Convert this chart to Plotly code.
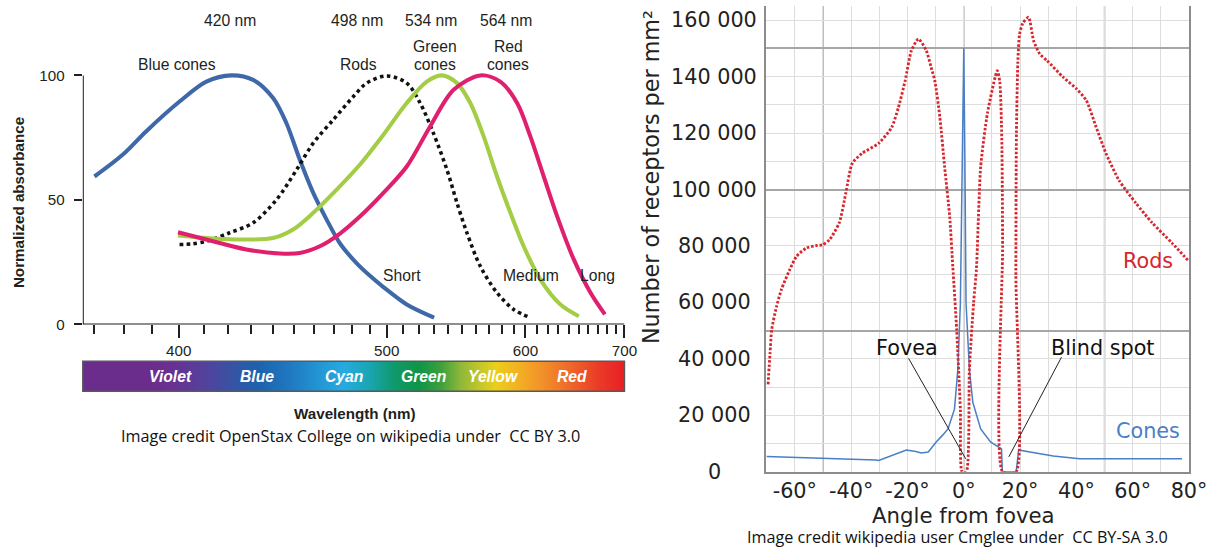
import plotly.graph_objects as go

# ---------------- data: left chart (absorbance spectra) ----------------
blue_wl = [370.0, 379.5, 387.8, 400.3, 410.9, 421.3, 430.8, 439.9, 446.2, 452.7, 459.4, 466.3, 473.4, 482.6, 490.1, 498.0, 512.3, 530.2]
blue_ab = [59.4, 68.1, 77.5, 89.5, 97.5, 100.0, 98.2, 90.9, 80.8, 66.1, 52.8, 42.1, 32.5, 24.5, 19.5, 15.0, 8.0, 2.7]

rods_wl = [400.3, 405.0, 410.9, 420.6, 430.8, 441.5, 451.1, 459.4, 469.8, 480.7, 488.2, 500.0, 512.3, 520.9, 529.7, 539.0, 546.1, 553.3, 563.3, 576.4, 590.0, 604.3]
rods_ab = [32.1, 32.3, 33.4, 36.8, 40.8, 50.1, 62.1, 72.8, 82.2, 91.5, 96.9, 99.8, 96.9, 88.9, 76.8, 62.1, 48.8, 36.8, 23.4, 12.7, 6.0, 2.7]

green_wl = [399.7, 413.6, 427.8, 439.9, 449.4, 459.4, 471.6, 484.4, 498.0, 512.3, 525.3, 535.5, 546.1, 555.8, 565.9, 576.4, 587.3, 598.5, 613.3, 631.9, 650.1]
green_ab = [35.7, 34.5, 34.1, 34.7, 38.1, 44.8, 54.1, 64.2, 76.2, 88.9, 97.5, 100.0, 96.9, 88.9, 75.5, 59.4, 44.8, 31.4, 18.0, 8.0, 3.3]

red_wl = [399.7, 413.6, 427.8, 443.0, 452.7, 462.8, 473.4, 484.5, 498.0, 512.3, 527.5, 543.7, 563.3, 579.0, 592.9, 604.3, 616.3, 628.8, 645.0, 662.2, 677.7]
red_ab = [37.0, 33.4, 30.1, 28.5, 28.7, 31.4, 36.5, 43.4, 52.8, 63.4, 79.5, 94.2, 100.0, 97.5, 88.9, 75.5, 59.4, 43.4, 26.1, 12.7, 4.0]

wl_major_ticks = [400, 500, 600, 700]
wl_minor_ticks = [370, 380, 390, 410, 420, 430, 440, 450, 460, 470, 480, 490, 510, 520, 530, 540, 550, 560, 570, 580, 590, 610, 620, 630, 640, 650, 660, 670, 680, 690]
ab_ticks = [0, 50, 100]

spec_wl = [366.2, 389.1, 396.9, 410.1, 420.6, 432.7, 447.5, 462.6, 475.6, 489.7, 504.4, 520.2, 533.9, 548.3, 563.5, 575.6, 592.6, 615.5, 640.0, 670.4, 702.5]
spec_col = ["#6b2d8c", "#6b2d8c", "#6a3090", "#53429c", "#3a52a3", "#1d62ad", "#1f78c0", "#2397d4", "#27aae1", "#1aa6b3",
            "#10996c", "#0f9548", "#3c9f3c", "#8db83a", "#c8c82a", "#ebcf1c", "#f2b322", "#f2902a", "#ee6a2a", "#ea3c28", "#e81d25"]
spec_names = ["Violet", "Blue", "Cyan", "Green", "Yellow", "Red"]
spec_name_wl = [397.0, 432.7, 475.5, 523.4, 573.8, 643.1]

# ---------------- data: right chart (receptor density) ----------------
rods_deg = [-69.5, -68.8, -68.2, -66.5, -64.8, -61.8, -59.4, -55.9, -52.0, -50.2, -47.7, -44.2, -41.9, -39.6, -36.1, -30.2,
            -25.6, -23.2, -20.8, -18.6, -16.1, -13.3, -11.6, -10.3, -8.5, -6.8, -5.0, -3.9, -2.5, -1.2, -0.6, 0.9, 2.0,
            3.5, 4.5, 6.0, 8.4, 11.9, 12.8, 13.5, 13.8, 13.8, 18.6, 18.5, 18.7, 19.2, 19.8, 21.0, 23.0, 24.8, 27.0, 29.5,
            35.3, 40.0, 43.5, 47.0, 50.5, 55.1, 61.1, 66.9, 73.9, 80.0]
rods_den = [31000, 42000, 50400, 58500, 64500, 71600, 76300, 79300, 80200, 80400, 82200, 88200, 98700, 109300, 112800, 116400,
            122000, 129100, 138600, 149200, 153300, 149200, 143300, 138600, 125700, 108000, 90400, 72800, 50000, 22000, 0, 0, 36300,
            60000, 72000, 108000, 127000, 142100, 138000, 118000, 80000, 0, 0, 70000, 120000, 145000, 155000, 159000, 161000, 152700, 148000, 145700,
            139800, 135700, 131600, 122100, 112800, 103300, 95200, 88200, 81100, 74500]

cones_deg = [-70.0, -50.0, -31.3, -30.2, -25.6, -20.4, -17.0, -15.1, -12.6, -9.8, -7.5, -5.6, -3.3, -2.1, -1.2, -0.4, 0.0, 0.4,
             0.8, 2.0, 3.2, 6.0, 9.5, 13.4, 13.7, 18.6, 19.5, 23.5, 31.8, 41.1, 58.6, 77.5]
cones_den = [5400, 4900, 4200, 4000, 5750, 7750, 7200, 6700, 7050, 10600, 13000, 15200, 22200, 36300, 59900, 110000, 150000, 110000,
             59900, 36300, 24700, 15200, 10600, 8100, 0, 0, 7750, 7050, 5650, 4600, 4600, 4600]

deg_ticks = [-60, -40, -20, 0, 20, 40, 60, 80]
den_ticks = [0, 20000, 40000, 60000, 80000, 100000, 120000, 140000, 160000]

# ---------------- helpers ----------------
RW, RH = 1210, 548          # reference pixel space
K = 1.0125                  # compensation for page fit scaling
W, H = round(RW * K), round(RH * K)
def fx(p):
    return p / RW
def fy(p):
    return 1 - p / RH
def fs(s):
    return s * K
def u(wl_list):
    return [-1000.0 / w for w in wl_list]

INK = "#231f20"
LF = "Liberation Sans, Arial, sans-serif"
RF = "DejaVu Sans, Verdana, sans-serif"
CF = "Open Sans, DejaVu Sans, sans-serif"

fig = go.Figure()

fig.add_trace(go.Scatter(x=u(blue_wl), y=blue_ab, mode="lines", line=dict(color="#3f68a9", width=fs(4), shape="spline", smoothing=0.9),
                         xaxis="x", yaxis="y", hoverinfo="skip"))
fig.add_trace(go.Scatter(x=u(rods_wl), y=rods_ab, mode="lines", line=dict(color="#111111", width=fs(3.5), dash="3.5px,3.5px", shape="spline", smoothing=0.9),
                         xaxis="x", yaxis="y", hoverinfo="skip"))
fig.add_trace(go.Scatter(x=u(green_wl), y=green_ab, mode="lines", line=dict(color="#a3cd45", width=fs(4), shape="spline", smoothing=0.9),
                         xaxis="x", yaxis="y", hoverinfo="skip"))
fig.add_trace(go.Scatter(x=u(red_wl), y=red_ab, mode="lines", line=dict(color="#e0206e", width=fs(4), shape="spline", smoothing=0.9),
                         xaxis="x", yaxis="y", hoverinfo="skip"))

n = len(spec_col)
fig.add_trace(go.Heatmap(x=u(spec_wl), y=[0, 1], z=[list(range(n)), list(range(n))], zsmooth="best",
                         colorscale=[[i / (n - 1), c] for i, c in enumerate(spec_col)], showscale=False,
                         xaxis="x3", yaxis="y3", hoverinfo="skip"))

fig.add_trace(go.Scatter(x=cones_deg, y=cones_den, mode="lines", line=dict(color="#4a7fc6", width=fs(1.5)),
                         xaxis="x2", yaxis="y2", hoverinfo="skip"))
fig.add_trace(go.Scatter(x=rods_deg, y=rods_den, mode="lines", line=dict(color="#d6262e", width=fs(2.8), dash="2.5px,1.8px", shape="spline", smoothing=0.6),
                         xaxis="x2", yaxis="y2", hoverinfo="skip"))

xl = [-1000.0 / 366.2, -1000.0 / 700.0]
left_dom_x = [fx(83), fx(626)]

shapes = [
    dict(type="line", xref="x", yref="y", x0=xl[0], x1=xl[1], y0=0, y1=0, line=dict(color=INK, width=fs(2))),
    dict(type="line", xref="x", yref="y", x0=xl[0], x1=xl[0], y0=0, y1=100, line=dict(color=INK, width=fs(2))),
    dict(type="rect", xref="x3 domain", yref="y3 domain", x0=0, x1=1, y0=0, y1=1, line=dict(color="#58595b", width=1.5)),
]
for v in [-50, 0, 50]:
    shapes.append(dict(type="line", xref="x2", yref="y2 domain", x0=v, x1=v, y0=0, y1=1, layer="below",
                       line=dict(color="#a6a6a6", width=1.5)))

ann = []
def txt(x, y, s, size, color=INK, family=LF, **kw):
    ann.append(dict(x=fx(x), y=fy(y), xref="paper", yref="paper", text=s, showarrow=False,
                    font=dict(size=fs(size), color=color, family=family), xanchor="center", yanchor="middle", **kw))

for x, s in [(230.7, "420 nm"), (358.3, "498 nm"), (431.7, "534 nm"), (507.3, "564 nm")]:
    txt(x, 20.7, s, 15.5)
txt(177.3, 64.3, "Blue cones", 15.5)
txt(359.3, 64.3, "Rods", 15.5)
txt(436, 46.7, "Green", 15.5)
txt(436, 64.3, "cones", 15.5)
txt(509.3, 46.7, "Red", 15.5)
txt(509.3, 64.3, "cones", 15.5)
txt(403.3, 276, "Short", 15.5)
txt(532.7, 276, "Medium", 15.5)
txt(599.3, 276, "Long", 15.5)
ann.append(dict(x=fx(18.5), y=fy(203), xref="paper", yref="paper", text="<b>Normalized absorbance</b>", showarrow=False,
                textangle=-90, font=dict(size=fs(15), color=INK, family=LF), xanchor="center", yanchor="middle"))
txt(356, 414, "<b>Wavelength (nm)</b>", 15)
txt(351, 437, "Image credit OpenStax College on wikipedia under  CC BY 3.0", 16, color="#111111", family=CF)

for s, w in zip(spec_names, spec_name_wl):
    ann.append(dict(x=-1000.0 / w, y=0.5, xref="x3", yref="y3 domain", text=s, showarrow=False,
                    font=dict(size=fs(15.5), color="white", family=LF, weight="bold", style="italic"),
                    xanchor="center", yanchor="middle"))

for v in den_ticks:
    ann.append(dict(x=fx(716), y=v, xref="paper", yref="y2", text=f"{v:,}".replace(",", " "), showarrow=False,
                    font=dict(size=fs(20.5), color="#222222", family=RF), xanchor="center", yanchor="middle"))
ann.append(dict(x=fx(652), y=fy(177), xref="paper", yref="paper", text="Number of receptors per mm²", showarrow=False,
                textangle=-90, font=dict(size=fs(22), color="#222222", family=RF), xanchor="center", yanchor="middle"))
txt(966, 516, "Angle from fovea", 21, color="#222222", family=RF)
txt(960, 537.5, "Image credit wikipedia user Cmglee under  CC BY-SA 3.0", 16, color="#111111", family=CF)
ann.append(dict(x=65.5, y=74600, xref="x2", yref="y2", text="Rods", showarrow=False,
                font=dict(size=fs(20.5), color="#d6262e", family=RF), xanchor="center", yanchor="middle"))
ann.append(dict(x=65.3, y=14300, xref="x2", yref="y2", text="Cones", showarrow=False,
                font=dict(size=fs(20.5), color="#4a7fc6", family=RF), xanchor="center", yanchor="middle"))
ann.append(dict(x=-20.3, y=44000, xref="x2", yref="y2", text="Fovea", showarrow=False,
                font=dict(size=fs(20.5), color="#111111", family=RF), xanchor="center", yanchor="middle"))
ann.append(dict(x=49.5, y=44000, xref="x2", yref="y2", text="Blind spot", showarrow=False,
                font=dict(size=fs(20.5), color="#111111", family=RF), xanchor="center", yanchor="middle"))
shapes.append(dict(type="line", xref="x2", yref="y2", x0=-19.6, y0=40200, x1=0.7, y1=4600, line=dict(color="#222222", width=1)))
shapes.append(dict(type="line", xref="x2", yref="y2", x0=34.7, y0=40600, x1=16.0, y1=5300, line=dict(color="#222222", width=1)))

fig.update_layout(
    width=W, height=H, margin=dict(l=0, r=0, t=0, b=0),
    paper_bgcolor="white", plot_bgcolor="rgba(0,0,0,0)", showlegend=False,
    xaxis=dict(domain=left_dom_x, range=xl, anchor="y", showgrid=False, zeroline=False, showline=False,
               tickmode="array", tickvals=u(wl_major_ticks), ticktext=[str(t) for t in wl_major_ticks],
               ticks="outside", ticklen=fs(12), tickwidth=2, tickcolor=INK,
               tickfont=dict(size=fs(15), color=INK, family=LF),
               minor=dict(tickmode="array", tickvals=u(wl_minor_ticks), ticks="outside", ticklen=fs(8), tickwidth=2, tickcolor=INK, showgrid=False)),
    yaxis=dict(domain=[fy(325), fy(45.6)], range=[0, 112], anchor="x", showgrid=False, zeroline=False, showline=False,
               tickmode="array", tickvals=ab_ticks, ticks="outside", ticklen=fs(8), tickwidth=2, tickcolor=INK,
               ticklabelstandoff=6,
               tickfont=dict(size=fs(15), color=INK, family=LF)),
    xaxis3=dict(domain=left_dom_x, range=xl, anchor="y3", showgrid=False, zeroline=False, showticklabels=False, ticks=""),
    yaxis3=dict(domain=[fy(392), fy(362)], range=[0, 1], anchor="x3", showgrid=False, zeroline=False, showticklabels=False, ticks=""),
    xaxis2=dict(domain=[fx(768), fx(1192)], range=[-70.2, 80], anchor="y2", zeroline=False,
                tickmode="array", tickvals=deg_ticks, ticktext=[f"{t}°" for t in deg_ticks],
                tickfont=dict(size=fs(20.5), color="#222222", family=RF), ticks="",
                showgrid=True, gridcolor="#dddddd", gridwidth=1,
                showline=True, linecolor="#8c8c8c", linewidth=1.5, mirror=False,
                minor=dict(tickmode="array", tickvals=list(range(-70, 81, 10)), showgrid=True, gridcolor="#dddddd", gridwidth=1, ticks="")),
    yaxis2=dict(domain=[fy(472.7), fy(6)], range=[0, 165000], anchor="x2", zeroline=False,
                tickmode="array", tickvals=[0, 50000, 100000, 150000], showticklabels=False, ticks="",
                showgrid=True, gridcolor="#a6a6a6", gridwidth=1.5,
                showline=True, linecolor="#8c8c8c", linewidth=1.5, mirror=True,
                minor=dict(tickmode="array", tickvals=list(range(0, 165001, 10000)), showgrid=True, gridcolor="#dddddd", gridwidth=1, ticks="")),
    shapes=shapes, annotations=ann,
)

fig.write_html("out.html")
